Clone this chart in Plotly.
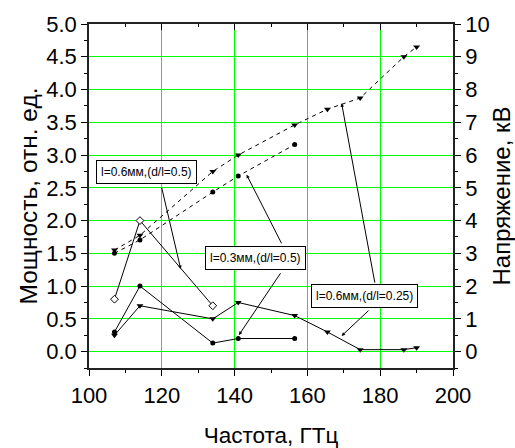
import plotly.graph_objects as go

# Frequency points (GHz)
freq_a = [107, 114, 134, 141, 156.5, 165.5, 174.5, 186.5, 190]   # l=0.6 mm, d/l=0.25
freq_b = [107, 114, 134, 141, 156.5]                              # l=0.3 mm, d/l=0.5
freq_c = [107, 114, 134]                                          # l=0.6 mm, d/l=0.5

# Output power, rel. units
power_a = [0.25, 0.70, 0.50, 0.75, 0.55, 0.30, 0.03, 0.03, 0.06]
power_b = [0.30, 1.00, 0.13, 0.20, 0.20]
power_c = [0.80, 2.00, 0.70]

# Voltage, kV
volt_a = [3.1, 3.55, 5.5, 6.0, 6.92, 7.4, 7.74, 9.0, 9.3]
volt_b = [3.0, 3.41, 4.87, 5.36, 6.32]

x_ticks = [100, 120, 140, 160, 180, 200]
left_ticks = [0.0, 0.5, 1.0, 1.5, 2.0, 2.5, 3.0, 3.5, 4.0, 4.5, 5.0]
right_ticks = list(range(0, 11))

FONT = "Liberation Sans, Arial"
GREEN = "#00ff00"

fig = go.Figure()

line_solid = dict(color="black", width=1)
line_dash = dict(color="black", width=1, dash="4px,4px")

fig.add_trace(go.Scatter(x=freq_a, y=volt_a, yaxis="y2", mode="lines+markers",
                         line=line_dash,
                         marker=dict(symbol="triangle-down", size=6, color="black")))
fig.add_trace(go.Scatter(x=freq_b, y=volt_b, yaxis="y2", mode="lines+markers",
                         line=line_dash,
                         marker=dict(symbol="circle", size=5, color="black")))
fig.add_trace(go.Scatter(x=freq_c, y=power_c, mode="lines+markers",
                         line=line_solid,
                         marker=dict(symbol="diamond", size=6, color="white",
                                     line=dict(color="black", width=1))))
fig.add_trace(go.Scatter(x=freq_b, y=power_b, mode="lines+markers",
                         line=line_solid,
                         marker=dict(symbol="circle", size=5, color="black")))
fig.add_trace(go.Scatter(x=freq_a, y=power_a, mode="lines+markers",
                         line=line_solid,
                         marker=dict(symbol="triangle-down", size=6, color="black")))
# carrier for the top mirror axis
fig.add_trace(go.Scatter(x=[None], y=[None], xaxis="x2", showlegend=False,
                         hoverinfo="skip"))

tick_font = dict(family=FONT, size=22, color="black")

fig.update_layout(
    width=515, height=448,
    margin=dict(l=89, r=62, t=24, b=80),
    paper_bgcolor="white", plot_bgcolor="white",
    showlegend=False,
    xaxis=dict(range=[100, 200], tickvals=x_ticks, ticktext=[str(v) for v in x_ticks],
               ticks="outside", ticklen=6, tickwidth=1, tickcolor="black",
               ticklabelstandoff=1, automargin=False,
               minor=dict(dtick=10, tick0=100, ticks="outside", ticklen=3,
                          tickcolor="black", showgrid=False),
               showline=True, linecolor="#222", linewidth=1.5,
               showgrid=True, gridcolor=GREEN, gridwidth=1.3,
               zeroline=False, tickfont=tick_font,
               title=dict(text="Частота, ГТц",
                          font=dict(family=FONT, size=22.5, color="black"),
                          standoff=25)),
    xaxis2=dict(range=[100, 200], overlaying="x", side="top",
                tickvals=x_ticks, showticklabels=False, automargin=False,
                ticks="inside", ticklen=6, tickcolor="black",
                minor=dict(dtick=10, tick0=100, ticks="inside", ticklen=3,
                           tickcolor="black"),
                showline=True, linecolor="#222", linewidth=1.5,
                showgrid=False, zeroline=False),
    yaxis=dict(range=[-0.25, 5.0], tickvals=left_ticks,
               ticktext=[f"{v:.1f}" for v in left_ticks],
               ticks="outside", ticklen=6, tickcolor="black", automargin=False,
               minor=dict(dtick=0.25, tick0=0, ticks="outside", ticklen=3,
                          tickcolor="black", showgrid=False),
               showline=True, linecolor="#222", linewidth=1.5,
               showgrid=True, gridcolor=GREEN, gridwidth=1.3,
               zeroline=False, tickfont=tick_font,
               title=dict(text="Мощность, отн. ед.",
                          font=dict(family=FONT, size=24.5, color="black"),
                          standoff=2)),
    yaxis2=dict(range=[-0.5, 10], overlaying="y", side="right",
                tickvals=right_ticks, ticktext=[str(v) for v in right_ticks],
                ticks="outside", ticklen=6, tickcolor="black", automargin=False,
                minor=dict(dtick=0.5, tick0=0, ticks="outside", ticklen=3,
                           tickcolor="black"),
                showline=True, linecolor="#222", linewidth=1.5,
                showgrid=False, zeroline=False, tickfont=tick_font,
                title=dict(text="Напряжение, кВ",
                           font=dict(family=FONT, size=24, color="black"),
                           standoff=7)),
)

# Labelled boxes
box_font = dict(family=FONT, size=12, color="black")
boxes = [
    (115.7, 2.744, "l=0.6мм,(d/l=0.5)"),
    (145.8, 1.427, "l=0.3мм,(d/l=0.5)"),
    (175.7, 0.846, "l=0.6мм,(d/l=0.25)"),
]
for bx, by, txt in boxes:
    fig.add_annotation(x=bx, y=by, xref="x", yref="y", text=txt, showarrow=False,
                       font=box_font, bgcolor="white", bordercolor="black",
                       borderwidth=1, borderpad=4)

# Leader arrows from the boxes to the curves
arrows = [
    ((119.9, 2.52), (125.2, 1.26)),
    ((153.1, 1.63), (143.3, 2.70)),
    ((152.9, 1.22), (141.2, 0.255)),
    ((178.6, 1.03), (169.4, 3.79)),
    ((177.2, 0.647), (169.4, 0.24)),
]
for (sx, sy), (tx, ty) in arrows:
    fig.add_annotation(x=tx, y=ty, ax=sx, ay=sy, xref="x", yref="y",
                       axref="x", ayref="y", text="", showarrow=True,
                       arrowhead=2, arrowsize=0.7, arrowwidth=1, arrowcolor="black")

fig.write_html("out.html")
